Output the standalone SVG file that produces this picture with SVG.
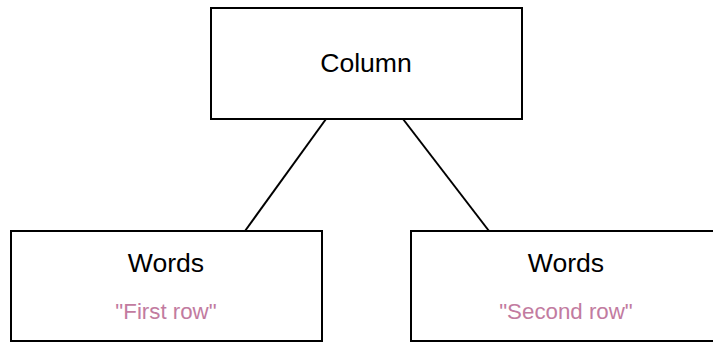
<svg xmlns="http://www.w3.org/2000/svg" width="713" height="343" viewBox="0 0 713 343">
  <style>
    .box { fill: #ffffff; stroke: #000000; stroke-width: 2; }
    .edge { stroke: #000000; stroke-width: 2; fill: none; }
    .title { font-family: "Liberation Sans", Arial, sans-serif; font-size: 26.6px; fill: #000000; text-anchor: middle; }
    .value { font-family: "Liberation Sans", Arial, sans-serif; font-size: 22.3px; fill: #c27ba0; text-anchor: middle; }
  </style>
  <rect width="713" height="343" fill="#ffffff"/>
  <g id="connectors">
    <line class="edge" x1="326" y1="119" x2="245" y2="231"/>
    <line class="edge" x1="403" y1="119" x2="489" y2="231"/>
  </g>
  <g id="column">
    <rect class="box" x="211" y="8" width="311" height="111"/>
    <text class="title" x="366" y="72">Column</text>
  </g>
  <g id="words-first">
    <rect class="box" x="11" y="231" width="311" height="110"/>
    <text class="title" x="166" y="272">Words</text>
    <text class="value" x="166" y="319">"First row"</text>
  </g>
  <g id="words-second">
    <rect class="box" x="411" y="231" width="311" height="110"/>
    <text class="title" x="566" y="272">Words</text>
    <text class="value" x="566" y="319">"Second row"</text>
  </g>
</svg>
